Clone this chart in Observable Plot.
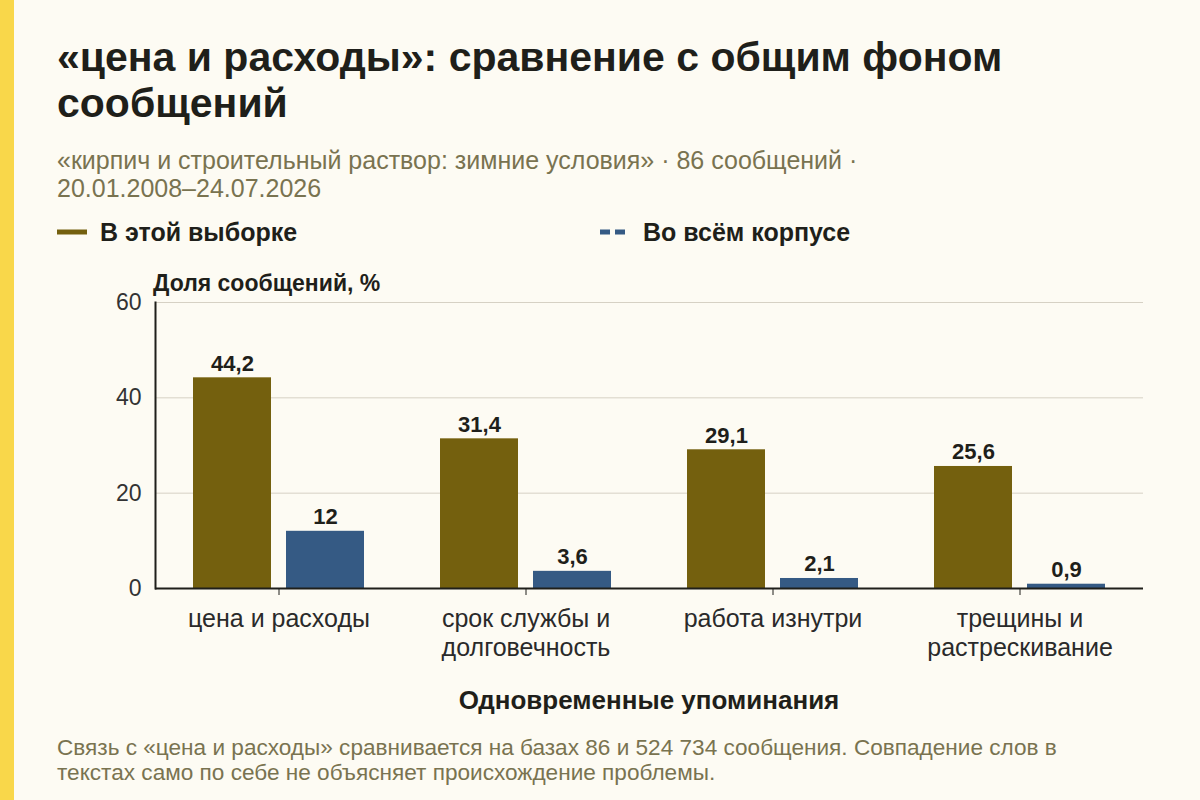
<!DOCTYPE html>
<html>
<head>
<meta charset="utf-8">
<script src="https://cdn.jsdelivr.net/npm/d3@7"></script>
<script src="https://cdn.jsdelivr.net/npm/@observablehq/plot@0.6"></script>
<style>
  html, body { margin: 0; padding: 0; }
  body { width: 1200px; height: 800px; background: #fdfbf3; position: relative; overflow: hidden; font-family: "Liberation Sans", Arial, sans-serif; }
  .strip { position: absolute; left: 0; top: 0; width: 14px; height: 800px; background: #f9d74a; }
  .title { position: absolute; left: 57px; top: 34px; width: 1100px; font-size: 41px; line-height: 46px; font-weight: bold; color: #1f1f1a; }
  .subtitle { position: absolute; left: 57px; top: 146px; width: 1100px; font-size: 25px; line-height: 28px; color: #797350; }
  .legend { position: absolute; top: 217px; left: 0; width: 1200px; height: 30px; font-size: 25px; font-weight: bold; color: #1f1f1a; }
  .legend .item { position: absolute; top: 0; display: flex; align-items: center; height: 30px; }
  .legend svg { margin-right: 13px; }
  .ylab { position: absolute; left: 153px; top: 270px; font-size: 23px; font-weight: bold; color: #1f1f1a; }
  .xlab { position: absolute; left: 155px; width: 988px; top: 685px; text-align: center; font-size: 26px; font-weight: bold; color: #1f1f1a; }
  .caption { position: absolute; left: 57px; top: 735px; width: 1040px; font-size: 22.6px; line-height: 25px; color: #797350; }
  #chart { position: absolute; left: 0; top: 260px; }
</style>
</head>
<body>
<div class="strip"></div>
<div class="title">«цена и расходы»: сравнение с общим фоном сообщений</div>
<div class="subtitle">«кирпич и строительный раствор: зимние условия» · 86 сообщений ·<br>20.01.2008–24.07.2026</div>
<div class="legend">
  <div class="item" style="left:57px"><svg width="30" height="10"><line x1="0" x2="30" y1="5" y2="5" stroke="#74600e" stroke-width="5"/></svg>В этой выборке</div>
  <div class="item" style="left:600px"><svg width="30" height="10"><line x1="0" x2="30" y1="5" y2="5" stroke="#355a84" stroke-width="5" stroke-dasharray="10,5"/></svg>Во всём корпусе</div>
</div>
<div class="ylab">Доля сообщений, %</div>
<div id="chart"></div>
<div class="xlab">Одновременные упоминания</div>
<div class="caption">Связь с «цена и расходы» сравнивается на базах 86 и 524 734 сообщения. Совпадение слов в текстах само по себе не объясняет происхождение проблемы.</div>
<script>
const categories = ["цена и расходы", "срок службы и долговечность", "работа изнутри", "трещины и растрескивание"];
const categoryLabels = ["цена и расходы", "срок службы и\nдолговечность", "работа изнутри", "трещины и\nрастрескивание"];
const seriesNames = ["В этой выборке", "Во всём корпусе"];
const sampleValues = [44.2, 31.4, 29.1, 25.6];
const corpusValues = [12, 3.6, 2.1, 0.9];
const yTicks = [0, 20, 40, 60];
const colors = ["#74600e", "#355a84"];

const data = [];
categories.forEach((c, i) => {
  data.push({cat: c, series: seriesNames[0], value: sampleValues[i]});
  data.push({cat: c, series: seriesNames[1], value: corpusValues[i]});
});
const fmt = v => String(v).replace(".", ",");
const labelOf = new Map(categories.map((c, i) => [c, categoryLabels[i]]));

const chart = Plot.plot({
  width: 1200,
  height: 470,
  marginLeft: 155,
  marginRight: 57,
  marginTop: 42,
  marginBottom: 142,
  style: {background: "transparent", fontFamily: "Liberation Sans, Arial, sans-serif", color: "#222"},
  fx: {domain: categories, padding: 0},
  x: {domain: seriesNames, paddingInner: 0.16, paddingOuter: 0.4, axis: null},
  y: {domain: [0, 60]},
  color: {domain: seriesNames, range: colors},
  marks: [
    Plot.gridY(yTicks, {stroke: "#d6d1c4", strokeOpacity: 1, strokeWidth: 1}),
    Plot.barY(data, {fx: "cat", x: "series", y: "value", fill: "series"}),
    Plot.text(data, {fx: "cat", x: "series", y: "value", text: d => fmt(d.value), lineAnchor: "bottom", dy: -7, fontSize: 22, fontWeight: "bold", fill: "#1f1f1a"}),
    Plot.ruleY([0], {stroke: "#1f1f1a", strokeWidth: 2}),
    Plot.frame({anchor: "left", facetAnchor: "left", stroke: "#1f1f1a", strokeWidth: 2}),
    Plot.axisY(yTicks, {tickSize: 0, tickPadding: 14, fontSize: 23, label: null, fill: "#333"}),
    Plot.axisFx({anchor: "bottom", tickSize: 7, tickPadding: 11, fontSize: 25, label: null, tickFormat: c => labelOf.get(c), lineHeight: 1.16, fill: "#2a2a2a", stroke: "#1f1f1a"})
  ]
});
document.getElementById("chart").appendChild(chart);
</script>
</body>
</html>
